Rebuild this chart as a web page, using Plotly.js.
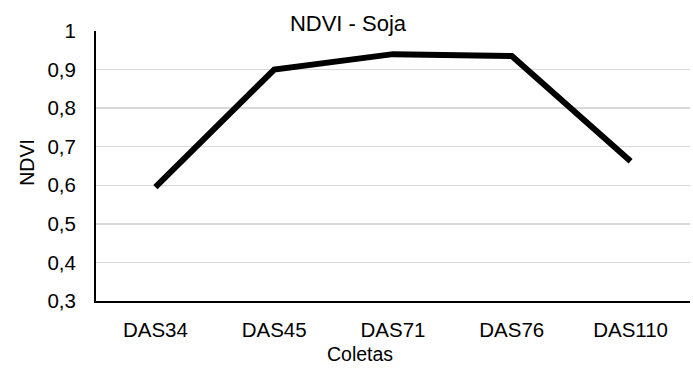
<!DOCTYPE html>
<html>
<head>
<meta charset="utf-8">
<script src="https://cdn.plot.ly/plotly-3.0.1.min.js"></script>
<style>
  html, body { margin: 0; padding: 0; background: #ffffff; }
  #chart { width: 693px; height: 368px; }
</style>
</head>
<body>
<div id="chart"></div>
<script>
// Sampling dates (days after sowing) and mean NDVI for soybean
const coletas = ["DAS34", "DAS45", "DAS71", "DAS76", "DAS110"];
const ndvi = [0.595, 0.90, 0.94, 0.935, 0.662];
const yTicks = [0.3, 0.4, 0.5, 0.6, 0.7, 0.8, 0.9, 1];
const yTickLabels = ["0,3", "0,4", "0,5", "0,6", "0,7", "0,8", "0,9", "1"];

const FONT = "Liberation Sans, Arial, sans-serif";

const trace = {
  type: "scatter",
  mode: "lines",
  x: coletas,
  y: ndvi,
  line: { color: "#000000", width: 6 },
  hoverinfo: "x+y"
};

const layout = {
  width: 693,
  height: 368,
  margin: { l: 96, r: 3, t: 31, b: 66.5, pad: 0 },
  paper_bgcolor: "#ffffff",
  plot_bgcolor: "#ffffff",
  showlegend: false,
  font: { family: FONT, color: "#000000", size: 20 },
  title: {
    text: "NDVI - Soja",
    font: { family: FONT, size: 22, color: "#000000" },
    x: 348 / 693, xref: "container", xanchor: "center",
    y: 1 - 23 / 368, yref: "container", yanchor: "middle"
  },
  xaxis: {
    type: "category",
    range: [-0.5, 4.5],
    showgrid: false,
    showline: true,
    linecolor: "#000000",
    linewidth: 2,
    ticks: "",
    ticklabelstandoff: 9,
    tickfont: { family: FONT, size: 20.5, color: "#000000" },
    zeroline: false,
    fixedrange: true
  },
  yaxis: {
    range: [0.3, 1],
    tickmode: "array",
    tickvals: yTicks,
    ticktext: yTickLabels,
    showgrid: true,
    gridcolor: "#d9d9d9",
    gridwidth: 1.5,
    showline: true,
    linecolor: "#000000",
    linewidth: 2,
    ticks: "",
    ticklabelstandoff: 14,
    tickfont: { family: FONT, size: 20.5, color: "#000000" },
    zeroline: false,
    fixedrange: true
  },
  annotations: [
    {
      text: "Coletas",
      xref: "paper", yref: "paper",
      x: (360 - 96) / (690 - 96), y: -(355 - 301.5) / 270.5,
      xanchor: "center", yanchor: "middle",
      showarrow: false,
      font: { family: FONT, size: 19.5, color: "#000000" }
    },
    {
      text: "NDVI",
      xref: "paper", yref: "paper",
      x: -(96 - 27) / 594, y: (301.5 - 163) / 270.5,
      xanchor: "center", yanchor: "middle",
      textangle: -90,
      showarrow: false,
      font: { family: FONT, size: 19.5, color: "#000000" }
    }
  ]
};

Plotly.newPlot("chart", [trace], layout, { displayModeBar: false, staticPlot: true });
</script>
</body>
</html>
